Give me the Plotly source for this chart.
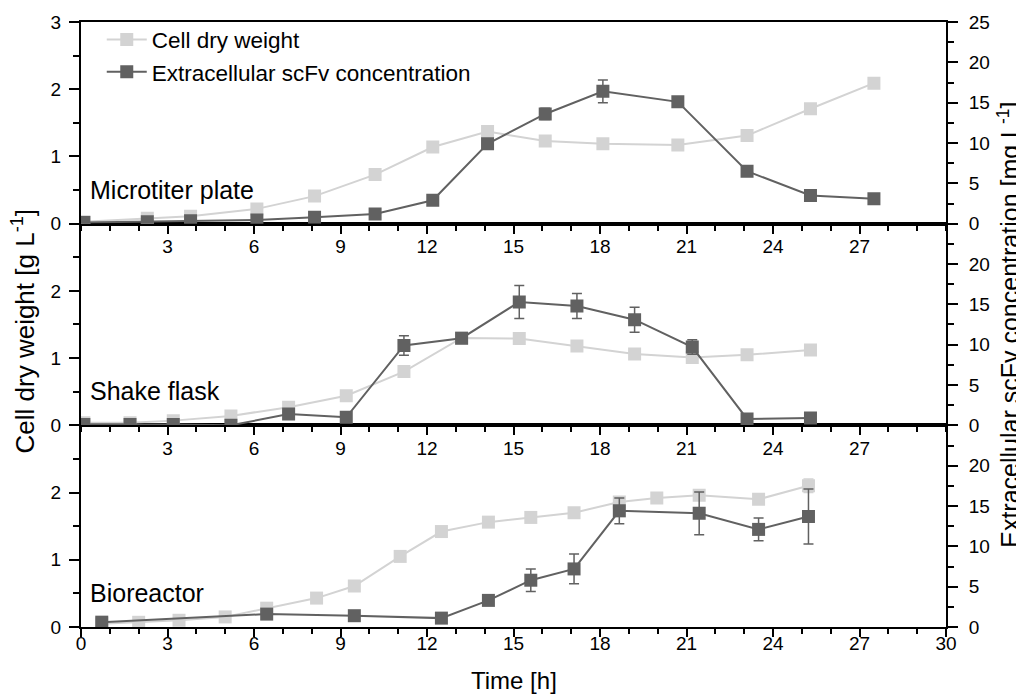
import plotly.graph_objects as go

# ---------------- data ----------------
# Microtiter plate
t_mtp = [0.1, 2.3, 3.8, 6.1, 8.1, 10.2, 12.2, 14.1, 16.1, 18.1, 20.7, 23.1, 25.3, 27.5]
cdw_mtp = [0.03, 0.08, 0.11, 0.22, 0.41, 0.73, 1.14, 1.37, 1.23, 1.19, 1.17, 1.31, 1.71, 2.09]
scfv_mtp = [0.15, 0.25, 0.35, 0.45, 0.8, 1.2, 2.9, 9.9, 13.6, 16.4, 15.1, 6.5, 3.5, 3.1]
scfv_mtp_err = [0, 0, 0, 0, 0, 0, 0, 0, 0.7, 1.4, 0, 0, 0, 0]

# Shake flask
t_sf = [0.1, 1.7, 3.2, 5.2, 7.2, 9.2, 11.2, 13.2, 15.2, 17.2, 19.2, 21.2, 23.1, 25.3]
cdw_sf = [0.04, 0.04, 0.07, 0.14, 0.27, 0.44, 0.80, 1.30, 1.29, 1.18, 1.06, 1.01, 1.05, 1.12]
scfv_sf = [0.1, 0.1, 0.1, 0.0, 1.4, 1.0, 9.9, 10.8, 15.3, 14.8, 13.1, 9.7, 0.8, 0.9]
scfv_sf_err = [0, 0, 0, 0, 0, 0, 1.2, 0, 2.05, 1.55, 1.55, 0.9, 0, 0]

# Bioreactor
t_br_cdw = [0.72, 2.0, 3.4, 5.0, 6.44, 8.17, 9.48, 11.07, 12.5, 14.13, 15.6, 17.1, 18.67, 19.97, 21.44, 23.5, 25.23]
cdw_br = [0.05, 0.07, 0.10, 0.15, 0.28, 0.43, 0.61, 1.05, 1.42, 1.56, 1.63, 1.70, 1.86, 1.92, 1.96, 1.90, 2.10]
cdw_br_err = [0, 0, 0, 0, 0, 0, 0, 0, 0, 0, 0, 0, 0, 0, 0.06, 0, 0.1]
t_br_scfv = [0.72, 6.44, 9.48, 12.5, 14.13, 15.6, 17.1, 18.67, 21.44, 23.5, 25.23]
scfv_br = [0.6, 1.6, 1.4, 1.1, 3.3, 5.8, 7.2, 14.4, 14.1, 12.1, 13.7]
scfv_br_err = [0, 0, 0, 0, 0, 1.4, 1.85, 1.6, 2.65, 1.4, 3.4]

panel_labels = ["Microtiter plate", "Shake flask", "Bioreactor"]
x_ticks_inner = [3, 6, 9, 12, 15, 18, 21, 24, 27]
x_ticks_bottom = [0, 3, 6, 9, 12, 15, 18, 21, 24, 27, 30]

LIGHT = "#d3d3d3"
DARK = "#616161"
FONT = "Arial, Liberation Sans, sans-serif"

fig = go.Figure()

def add_panel(xa, ya_left, ya_right, tc, cdw, cdw_err, ts, scfv, scfv_err, show_legend):
    fig.add_trace(go.Scatter(
        x=tc, y=cdw, xaxis=xa, yaxis=ya_left, mode="lines+markers",
        name="Cell dry weight", showlegend=show_legend, legendrank=1,
        line=dict(color=LIGHT, width=2),
        marker=dict(symbol="square", size=13, color=LIGHT),
        error_y=dict(type="data", array=cdw_err, color=LIGHT, thickness=1.5, width=5,
                     visible=cdw_err is not None),
    ))
    fig.add_trace(go.Scatter(
        x=ts, y=scfv, xaxis=xa, yaxis=ya_right, mode="lines+markers",
        name="Extracellular scFv concentration", showlegend=show_legend, legendrank=2,
        line=dict(color=DARK, width=2),
        marker=dict(symbol="square", size=13, color=DARK),
        error_y=dict(type="data", array=scfv_err, color=DARK, thickness=1.5, width=5),
    ))

add_panel("x3", "y5", "y6", t_mtp, cdw_mtp, None, t_mtp, scfv_mtp, scfv_mtp_err, True)
add_panel("x2", "y3", "y4", t_sf, cdw_sf, None, t_sf, scfv_sf, scfv_sf_err, False)
add_panel("x", "y", "y2", t_br_cdw, cdw_br, cdw_br_err, t_br_scfv, scfv_br, scfv_br_err, False)

tickfont = dict(family=FONT, size=19, color="black")

def xaxis_cfg(anchor, bottom):
    return dict(
        anchor=anchor, domain=[0, 1], range=[0, 30],
        showline=True, linecolor="black", linewidth=2, mirror=True,
        showgrid=False, zeroline=False,
        ticks="outside", ticklen=8, tickwidth=2, tickcolor="black",
        tickmode="array",
        tickvals=x_ticks_bottom if bottom else x_ticks_inner,
        tickfont=tickfont,
        ticklabelstandoff=-10 if bottom else -3,
        minor=dict(ticks="outside", ticklen=5, tickwidth=2, tickcolor="black",
                   tickmode="linear", tick0=0, dtick=1, showgrid=False),
    )

def yleft_cfg(anchor, domain, top):
    return dict(
        anchor=anchor, domain=domain, range=[0, 3],
        showline=True, linecolor="black", linewidth=2,
        showgrid=False, zeroline=False,
        ticks="outside", ticklen=10, tickwidth=2, tickcolor="black",
        tickmode="array", tickvals=[0, 1, 2, 3] if top else [0, 1, 2],
        tickfont=tickfont, ticklabelstandoff=4,
        minor=dict(ticks="outside", ticklen=6, tickwidth=2, tickcolor="black",
                   tickmode="linear", tick0=0, dtick=0.5, showgrid=False),
    )

def yright_cfg(anchor, overlay, top):
    return dict(
        anchor=anchor, overlaying=overlay, side="right", range=[0, 25],
        showline=True, linecolor="black", linewidth=2,
        showgrid=False, zeroline=False,
        ticks="outside", ticklen=10, tickwidth=2, tickcolor="black",
        tickmode="array", tickvals=[0, 5, 10, 15, 20, 25] if top else [0, 5, 10, 15, 20],
        tickfont=tickfont, ticklabelstandoff=7,
        minor=dict(ticks="outside", ticklen=6, tickwidth=2, tickcolor="black",
                   tickmode="linear", tick0=0, dtick=2.5, showgrid=False),
    )

third = 1 / 3
# the page body adds an 8 px offset, so the figure is 8 px smaller and margins shifted
fig.update_layout(
    width=1016, height=689,
    margin=dict(l=73, r=78, t=14, b=70, autoexpand=False),
    paper_bgcolor="white", plot_bgcolor="white",
    font=dict(family=FONT, color="black"),
    xaxis=xaxis_cfg("y", True),
    xaxis2=xaxis_cfg("y3", False),
    xaxis3=xaxis_cfg("y5", False),
    yaxis=yleft_cfg("x", [0, third], False),
    yaxis2=yright_cfg("x", "y", False),
    yaxis3=yleft_cfg("x2", [third, 2 * third], False),
    yaxis4=yright_cfg("x2", "y3", False),
    yaxis5=yleft_cfg("x3", [2 * third, 1], True),
    yaxis6=yright_cfg("x3", "y5", True),
    legend=dict(x=0.024, y=1.006, xanchor="left", yanchor="top",
                bgcolor="rgba(0,0,0,0)", font=dict(family=FONT, size=22.5),
                tracegroupgap=0, itemwidth=40),
    showlegend=True,
)

annots = [
    dict(text="Time [h]", x=0.5, y=-0.088, xref="paper", yref="paper",
         xanchor="center", yanchor="middle", showarrow=False, font=dict(size=24)),
    dict(text="Cell dry weight [g L<sup>-1</sup>]", x=-0.066, y=0.49, xref="paper", yref="paper",
         xanchor="center", yanchor="middle", textangle=-90, showarrow=False, font=dict(size=26)),
    dict(text="Extracellular scFv concentration [mg L<sup>-1</sup>]", x=1.072, y=0.5,
         xref="paper", yref="paper", xanchor="center", yanchor="middle", textangle=-90,
         showarrow=False, font=dict(size=25)),
]
panel_y = [2 * third, third, 0]
for lab, y0 in zip(panel_labels, panel_y):
    annots.append(dict(text=lab, x=0.008, y=y0 + 0.056, xref="paper", yref="paper",
                       xanchor="left", yanchor="middle", showarrow=False,
                       font=dict(size=25)))
fig.update_layout(annotations=annots)

fig.write_html("out.html")
